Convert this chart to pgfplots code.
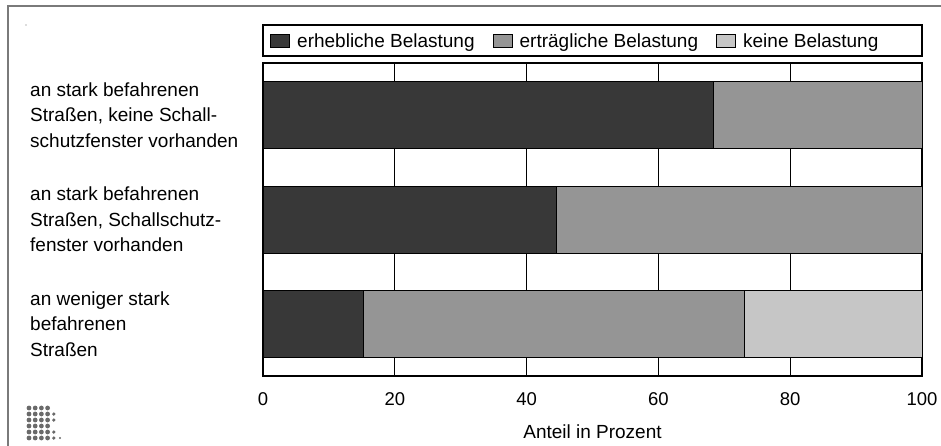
\documentclass[border=0pt]{standalone}
\usepackage{pgfplots}
\pgfplotsset{compat=1.18}
\usepackage{pgfplotstable}
\usepackage{fontspec}
\setmainfont{Liberation Sans}
\definecolor{cdark}{HTML}{383838}
\definecolor{cmid}{HTML}{959595}
\definecolor{clight}{HTML}{C6C6C6}
\definecolor{cframe}{HTML}{7A7A7A}
\definecolor{cdots}{HTML}{6A6A6A}
\pgfplotstableread{
y dark mid light
0 15.3 57.7 27.0
1 44.5 55.5 0
2 68.3 31.7 0
}\datatable
\begin{document}
\begin{tikzpicture}[x=1pt,y=1pt]
\useasboundingbox (0,0) rectangle (941,445);
% outer frame (cut at bottom and right)
\draw[cframe, line width=2pt] (8,-2) -- (8,439) -- (943,439);
\fill[cdots] (26,420) circle (0.6);
% logo dots
\foreach \r/\n in {0/4,1/5,2/5,3/4,4/5,5/6}{
  \foreach \c in {1,...,\n}{
    \pgfmathsetmacro{\rad}{\c<5 ? 2.4 : (\c<6 ? 1.8 : 1.2)}
    \fill[cdots] ({29+6.2*(\c-1)},{445-408-6*\r}) circle (\rad pt);
  }
}
\begin{axis}[
  at={(263pt,69pt)}, anchor=south west,
  width=659pt, height=313pt, scale only axis,
  xbar stacked,
  bar width=67pt,
  xmin=0, xmax=100,
  ymin=-0.5, ymax=2.5,
  xtick={0,20,40,60,80,100},
  ytick={0,1,2},
  yticklabels={{an weniger stark\\befahrenen\\Straßen},{an stark befahrenen\\Straßen, Schallschutz-\\fenster vorhanden},{an stark befahrenen\\Straßen, keine Schall-\\schutzfenster vorhanden}},
  major tick length=0pt,
  xmajorgrids,
  grid style={black, line width=0.9pt},
  axis line style={black, line width=1.4pt},
  /pgf/number format/assume math mode=true,
  xticklabel style={anchor=base, yshift=-29.5pt, font=\fontsize{18.5}{22}\selectfont},
  yticklabel style={anchor=west, align=left, inner sep=0pt, xshift=-233pt, font=\fontsize{19}{25.5}\selectfont},
  xlabel={Anteil in Prozent},
  xlabel style={at={(axis description cs:0.5,0)}, anchor=base, yshift=-62pt, font=\fontsize{19}{23}\selectfont},
  legend columns=3,
  legend style={at={(axis description cs:0,1)}, anchor=south west, xshift=4pt, yshift=10pt, draw=none, fill=none,
    font=\fontsize{19}{23}\selectfont,
    /tikz/every odd column/.append style={column sep=5pt},
    /tikz/every even column/.append style={column sep=16pt},
    nodes={inner sep=2pt}},
  legend cell align=left,
  legend image code/.code={\draw[#1, draw=black, line width=1pt] (0pt,-6.5pt) rectangle (19pt,6.5pt);},
  clip=false,
]
\addplot[fill=cdark, draw=black, line width=0.9pt] table[x=dark, y=y] {\datatable};
\addplot[fill=cmid, draw=black, line width=0.9pt] table[x=mid, y=y] {\datatable};
\addplot[fill=clight, draw=black, line width=0.9pt] table[x=light, y=y] {\datatable};
\legend{erhebliche Belastung,erträgliche Belastung,keine Belastung}
\draw[black, line width=1.2pt] ([yshift=7pt]rel axis cs:0,1) rectangle ([yshift=38pt]rel axis cs:1,1);
\end{axis}
\end{tikzpicture}
\end{document}
